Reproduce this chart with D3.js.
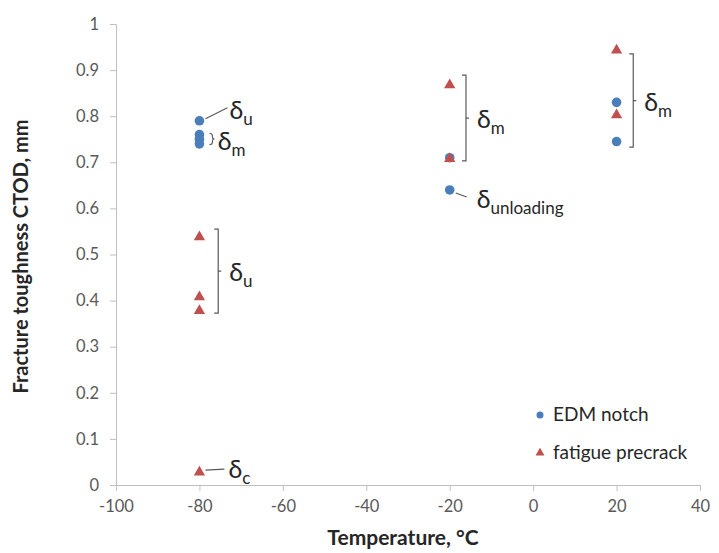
<!DOCTYPE html>
<html>
<head>
<meta charset="utf-8">
<script src="https://cdn.jsdelivr.net/npm/d3@7"></script>
<style>
  body { margin: 0; background: #fff; }
  text { font-family: Lato, "Open Sans", sans-serif; }
</style>
</head>
<body>
<svg width="719" height="553"></svg>
<script>
// data
var edmTemp = [-80, -80, -80, -80, -20, -20, 20, 20];
var edmCtod = [0.79, 0.76, 0.75, 0.74, 0.71, 0.64, 0.83, 0.745];
var fatTemp = [-80, -80, -80, -80, -20, -20, 20, 20];
var fatCtod = [0.54, 0.41, 0.38, 0.03, 0.87, 0.71, 0.945, 0.805];
var xTicks = [-100, -80, -60, -40, -20, 0, 20, 40];
var yTicks = [0, 0.1, 0.2, 0.3, 0.4, 0.5, 0.6, 0.7, 0.8, 0.9, 1];
var seriesNames = ["EDM notch", "fatigue precrack"];

// brackets: [temperature, from, to, sub]
var brackets = [[-75.5, 0.555, 0.373, "u"], [-16.1, 0.889, 0.703, "m"], [24, 0.935, 0.733, "m"]];

var svg = d3.select("svg"),
    margin = {top: 24, right: 19, bottom: 68, left: 116},
    width = +svg.attr("width") - margin.left - margin.right,
    height = +svg.attr("height") - margin.top - margin.bottom,
    g = svg.append("g").attr("transform", "translate(" + margin.left + "," + margin.top + ")");

var x = d3.scaleLinear().domain([-100, 40]).range([0, width]);
var y = d3.scaleLinear().domain([0, 1]).range([height, 0]);

var axisColor = "#bfbfbf", labelColor = "#595959";
var blue = "#4a7ebb", red = "#c0504d";

var xAxis = g.append("g")
    .attr("transform", "translate(0," + height + ")")
    .call(d3.axisBottom(x).tickValues(xTicks).tickSize(6).tickPadding(9).tickFormat(function(d) { return String(d); }));
var yAxis = g.append("g")
    .call(d3.axisLeft(y).tickValues(yTicks).tickSize(6).tickPadding(11).tickFormat(function(d) { return String(+d.toFixed(1)); }));

[xAxis, yAxis].forEach(function(a) {
  a.select(".domain").attr("stroke", axisColor);
  a.selectAll(".tick line").attr("stroke", axisColor);
  a.selectAll(".tick text").attr("fill", labelColor).style("font-size", "16.5px")
    .style("font-family", "Lato, 'Open Sans', sans-serif");
});

// axis titles
svg.append("text")
    .attr("x", margin.left + width / 2 - 5)
    .attr("y", 545)
    .attr("text-anchor", "middle")
    .style("font-size", "21px").style("font-weight", "bold").attr("fill", "#262626")
    .text("Temperature, °C");
svg.append("text")
    .attr("transform", "translate(28," + (margin.top + height / 2 + 2) + ") rotate(-90)")
    .attr("text-anchor", "middle")
    .style("font-size", "20px").style("font-weight", "bold").attr("fill", "#262626")
    .text("Fracture toughness CTOD, mm");

// annotation helpers
var annoColor = "#595959";
function delta(px, py, sub) {
  var t = g.append("text").attr("x", px).attr("y", py).attr("fill", "#262626")
      .style("font-size", "25px");
  t.append("tspan").text("δ");
  t.append("tspan").attr("dy", 6).style("font-size", "17px").text(sub);
}
function leader(x1, y1, x2, y2) {
  g.append("line").attr("x1", x1).attr("y1", y1).attr("x2", x2).attr("y2", y2)
      .attr("stroke", annoColor).attr("stroke-width", 1.2);
}

// brackets
brackets.forEach(function(b) {
  var bx = x(b[0]), y1 = y(b[1]), y2 = y(b[2]), ym = (y1 + y2) / 2;
  g.append("path")
      .attr("d", "M" + (bx - 4) + "," + y1 + "H" + bx + "V" + y2 + "H" + (bx - 4) + "M" + bx + "," + ym + "h3")
      .attr("fill", "none").attr("stroke", annoColor).attr("stroke-width", 1.2);
  delta(bx + 11, ym + 10, b[3]);
});

// small brace for delta m at -80
var bxs = x(-77.6), yb1 = y(0.763), yb2 = y(0.738), ybm = (yb1 + yb2) / 2;
g.append("path")
    .attr("d", "M" + bxs + "," + yb1 + "q3,0 3,3v" + (ybm - yb1 - 5) + "q0,2 2,2q-2,0 -2,2v" + (yb2 - ybm - 5) + "q0,3 -3,3")
    .attr("fill", "none").attr("stroke", annoColor).attr("stroke-width", 1.1);
delta(x(-75.6), y(0.745) + 8, "m");

// leaders
leader(x(-80) + 6, y(0.79) - 2, x(-80) + 28, y(0.79) - 13);
delta(x(-80) + 30, y(0.79) - 2, "u");
leader(x(-80) + 6, y(0.03) - 1, x(-80) + 25, y(0.03) - 2);
delta(x(-80) + 29, y(0.03) + 7, "c");
leader(x(-20) + 6, y(0.64) + 3, x(-20) + 17, y(0.64) + 7);
delta(x(-20) + 27, y(0.64) + 18, "unloading");

// points
g.selectAll(".edm").data(edmTemp).enter().append("circle")
    .attr("class", "edm")
    .attr("cx", function(d) { return x(d); })
    .attr("cy", function(d, i) { return y(edmCtod[i]); })
    .attr("r", 4.8)
    .attr("fill", blue);

var tri = d3.symbol().type(d3.symbolTriangle).size(55);
g.selectAll(".fat").data(fatTemp).enter().append("path")
    .attr("class", "fat")
    .attr("transform", function(d, i) { return "translate(" + x(d) + "," + (y(fatCtod[i]) + 1) + ")"; })
    .attr("d", tri)
    .attr("fill", red);

// legend
var legend = svg.append("g").attr("transform", "translate(540,415)");
legend.append("circle").attr("cx", 0).attr("cy", 0).attr("r", 3.5).attr("fill", blue);
legend.append("text").attr("x", 13).attr("y", 6).style("font-size", "19px").attr("fill", "#262626").text(seriesNames[0]);
legend.append("path").attr("transform", "translate(0,38)").attr("d", d3.symbol().type(d3.symbolTriangle).size(35)).attr("fill", red);
legend.append("text").attr("x", 13).attr("y", 44).style("font-size", "19px").attr("fill", "#262626").text(seriesNames[1]);
</script>
</body>
</html>
